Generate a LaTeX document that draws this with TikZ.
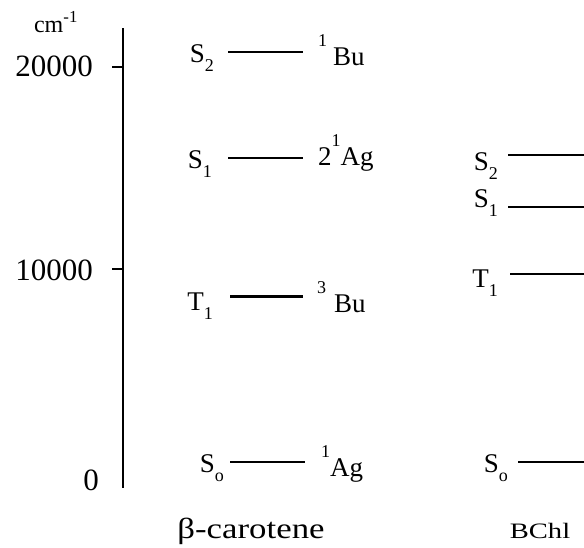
\documentclass[tikz,border=0pt]{standalone}
\usepackage{fontspec}
\setmainfont{Liberation Serif}
\newcommand{\sbx}[1]{\raisebox{-0.35em}{\fontsize{18}{18}\selectfont #1}}
\newcommand{\spx}[1]{\raisebox{0.7em}{\fontsize{18}{18}\selectfont #1}}
\begin{document}
\begin{tikzpicture}[x=1pt,y=-1pt,
  lvl/.style={line width=1.9pt},
  axisline/.style={line width=2.3pt},
  lab/.style={font=\fontsize{27}{28}\selectfont, inner sep=0pt, anchor=base east},
  term/.style={font=\fontsize{27}{28}\selectfont, inner sep=0pt, anchor=base west},
  num/.style={font=\fontsize{31}{32}\selectfont, inner sep=0pt, anchor=base east},
  captext/.style={font=\fontsize{29}{30}\selectfont, inner sep=0pt, anchor=base},
]
\useasboundingbox (0,0) rectangle (584,547);
% axis
\coordinate (atop) at (123,28);
\coordinate (abot) at (123,488);
\draw[axisline] (atop) -- (abot);
\coordinate (t20a) at (112,67); \coordinate (t20b) at (123,67);
\draw[axisline] (t20a) -- (t20b);
\coordinate (t10a) at (112,269); \coordinate (t10b) at (123,269);
\draw[axisline] (t10a) -- (t10b);
\node[font=\fontsize{24}{24}\selectfont, inner sep=0pt, anchor=base] (unit) at (56,32) {cm\textsuperscript{-1}};
\node[num] (n20) at (93,76) {20000};
\node[num] (n10) at (93,280) {10000};
\node[num] (n0) at (99,490) {0};
% beta-carotene
\coordinate (bs2a) at (228,52); \coordinate (bs2b) at (303,52);
\draw[lvl] (bs2a) -- (bs2b);
\node[lab] (bs2l) at (214,62) {S\sbx{2}};
\node[term] (bs2t) at (318,65) {\spx{1}\hspace{6pt}Bu};
\coordinate (bs1a) at (228,158); \coordinate (bs1b) at (303,158);
\draw[lvl] (bs1a) -- (bs1b);
\node[lab] (bs1l) at (212,168) {S\sbx{1}};
\node[term] (bs1t) at (318,165) {2\spx{1}Ag};
\coordinate (bt1a) at (230,296); \coordinate (bt1b) at (303,296);
\draw[line width=3pt] (bt1a) -- (bt1b);
\node[lab] (bt1l) at (213,310) {T\sbx{1}};
\node[term] (bt1t) at (317,312) {\spx{3}\hspace{8pt}Bu};
\coordinate (bs0a) at (230,462); \coordinate (bs0b) at (305,462);
\draw[lvl] (bs0a) -- (bs0b);
\node[lab] (bs0l) at (224,472) {S\sbx{o}};
\node[term] (bs0t) at (321,476) {\spx{1}Ag};
\node[captext] (bcar) at (251,538) {\scalebox{1.2}[1]{β-carotene}};
% BChl
\coordinate (cs2a) at (508,155); \coordinate (cs2b) at (584,155);
\draw[lvl] (cs2a) -- (cs2b);
\node[lab] (cs2l) at (498,170) {S\sbx{2}};
\coordinate (cs1a) at (508,207); \coordinate (cs1b) at (584,207);
\draw[lvl] (cs1a) -- (cs1b);
\node[lab] (cs1l) at (498,207) {S\sbx{1}};
\coordinate (ct1a) at (510,274); \coordinate (ct1b) at (584,274);
\draw[lvl] (ct1a) -- (ct1b);
\node[lab] (ct1l) at (498,287) {T\sbx{1}};
\coordinate (cs0a) at (518,462); \coordinate (cs0b) at (584,462);
\draw[lvl] (cs0a) -- (cs0b);
\node[lab] (cs0l) at (508,472) {S\sbx{o}};
\node[captext, font=\fontsize{22}{22}\selectfont] (bchl) at (540,538) {\scalebox{1.3}[1]{BChl}};
\end{tikzpicture}
\end{document}
